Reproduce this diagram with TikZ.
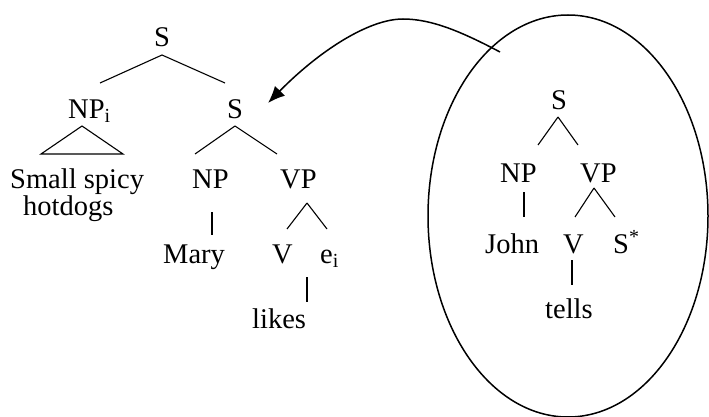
\documentclass[tikz,border=0pt]{standalone}
\usepackage{fontspec}
\setmainfont{Liberation Serif}
\usetikzlibrary{arrows.meta}
\begin{document}
\begin{tikzpicture}[x=1pt,y=-1pt,
  lbl/.style={inner sep=0pt,anchor=base west,font=\fontsize{28.5}{34}\selectfont},
  edge/.style={line width=1.1pt},
  bigline/.style={line width=1.5pt}]
\useasboundingbox (0,0) rectangle (709,417);
% left tree
\node[lbl,anchor=base] (s1) at (162,46.5) {S};
\node[lbl] (npi) at (68,118) {NP\textsubscript{i}};
\node[lbl,anchor=base] (s2) at (235,118) {S};
\node[lbl] (small) at (10,188) {Small spicy};
\node[lbl] (hot) at (23,215) {hotdogs};
\node[lbl] (np1) at (192,188) {NP};
\node[lbl] (vp1) at (280,188) {VP};
\node[lbl] (mary) at (163,263) {Mary};
\node[lbl] (v1) at (272,263) {V};
\node[lbl] (ei) at (320,263) {e\textsubscript{i}};
\node[lbl] (likes) at (252,328) {likes};
% edges left
\draw[edge] ([yshift=-8.5pt]s1.base) -- ([xshift=32pt,yshift=35pt]npi.base west);
\draw[edge] ([yshift=-8.5pt]s1.base) -- ([xshift=-10pt,yshift=35pt]s2.base);
\draw[edge] ([xshift=14pt,yshift=-8pt]npi.base west) -- ([xshift=31pt,yshift=34pt]small.base west) -- ([xshift=113pt,yshift=34pt]small.base west) -- cycle;
\draw[edge] ([yshift=-8pt]s2.base) -- ([xshift=3pt,yshift=34pt]np1.base west);
\draw[edge] ([yshift=-8pt]s2.base) -- ([xshift=-3pt,yshift=34pt]vp1.base west);
\draw[edge] ([xshift=20pt,yshift=-24pt]np1.base west) -- ([xshift=49pt,yshift=28pt]mary.base west);
\draw[edge] ([xshift=27pt,yshift=-15pt]vp1.base west) -- ([xshift=15pt,yshift=34pt]v1.base west);
\draw[edge] ([xshift=27pt,yshift=-15pt]vp1.base west) -- ([xshift=7pt,yshift=34pt]ei.base west);
\draw[edge] ([xshift=-13pt,yshift=-14pt]ei.base west) -- ([xshift=55pt,yshift=26pt]likes.base west);
% right tree
\node[lbl,anchor=base] (s3) at (559,110) {S};
\node[lbl] (np2) at (500,182) {NP};
\node[lbl] (vp2) at (580,182) {VP};
\node[lbl] (john) at (485,253) {John};
\node[lbl] (v2) at (563,253) {V};
\node[lbl] (sstar) at (613,253) {S\textsuperscript{*}};
\node[lbl] (tells) at (545,318) {tells};
\draw[edge] ([xshift=-1pt,yshift=-7pt]s3.base) -- ([xshift=38pt,yshift=37pt]np2.base west);
\draw[edge] ([xshift=-1pt,yshift=-7pt]s3.base) -- ([xshift=-2pt,yshift=37pt]vp2.base west);
\draw[edge] ([xshift=24pt,yshift=-10pt]np2.base west) -- ([xshift=39pt,yshift=36pt]john.base west);
\draw[edge] ([xshift=14pt,yshift=-6pt]vp2.base west) -- ([xshift=12pt,yshift=36pt]v2.base west);
\draw[edge] ([xshift=14pt,yshift=-6pt]vp2.base west) -- ([xshift=2pt,yshift=36pt]sstar.base west);
\draw[edge] ([xshift=9pt,yshift=-7pt]v2.base west) -- ([xshift=27pt,yshift=33pt]tells.base west);
% ellipse
\draw[bigline] (568,216) ellipse [x radius=140pt, y radius=201pt];
% arrow
\coordinate (start) at (500,52);
\coordinate (peak) at (403,19);
\coordinate (tip) at ([xshift=33pt,yshift=15pt]s2.base);
\draw[bigline,-{Latex[length=17pt,width=14pt]}] (start) .. controls (462,32) and (432,19) .. (peak) .. controls (368,19) and (318,52) .. (tip);
\end{tikzpicture}
\end{document}
